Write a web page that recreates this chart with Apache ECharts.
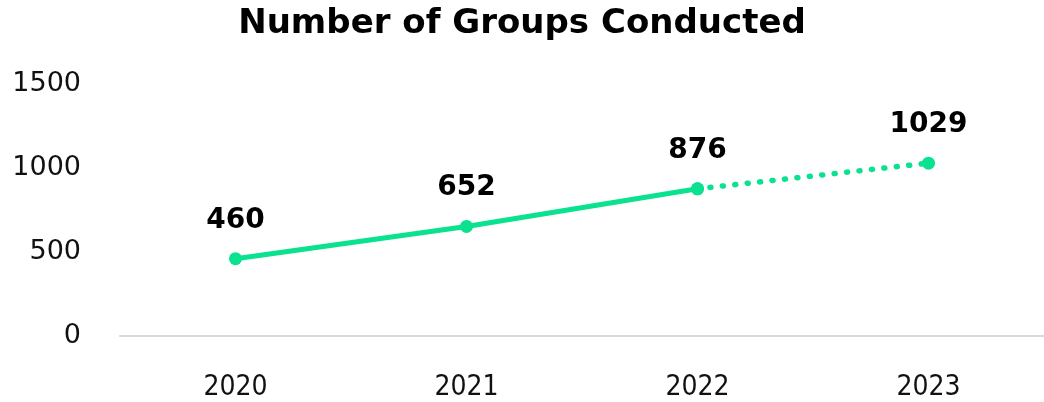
<!DOCTYPE html>
<html><head><meta charset="utf-8">
<script src="https://cdn.jsdelivr.net/npm/echarts@6/dist/echarts.min.js"></script>
<style>html,body{margin:0;padding:0;background:#fff}#c{width:1044px;height:402px}</style>
</head><body><div id="c"></div>
<script>
const categories = ['2020','2021','2022','2023'];
const actualValues = [460, 652, 876, null];
const projectedValues = [null, null, 876, 1029];
const yTicks = [0, 500, 1000, 1500];
const titleText = 'Number of Groups Conducted';

const green = '#0ae28f';
const chart = echarts.init(document.getElementById('c'));
chart.setOption({
  animation: false,
  title: {
    text: titleText, left: 'center', top: 2,
    textStyle: {fontFamily: 'DejaVu Sans', fontWeight: 'bold', fontSize: 34, color: '#000'}
  },
  grid: {left: 120, right: -4, top: 84, bottom: 66},
  xAxis: {
    type: 'category', data: categories, boundaryGap: true,
    axisLine: {lineStyle: {color: '#d9d9d9', width: 2}},
    axisTick: {show: false},
    axisLabel: {margin: 38, fontSize: 28, color: '#111', fontFamily: "'DejaVu Sans Condensed', 'Liberation Sans Narrow', Roboto"}
  },
  yAxis: {
    type: 'value', min: yTicks[0], max: yTicks[yTicks.length - 1], interval: 500,
    splitLine: {show: false},
    axisLabel: {margin: 39, fontSize: 27, color: '#111', fontFamily: 'DejaVu Sans', formatter: v => String(v)}
  },
  series: [
    {
      type: 'line', data: actualValues, symbol: 'circle', symbolSize: 13,
      lineStyle: {color: green, width: 5},
      itemStyle: {color: green},
      label: {show: true, position: 'top', distance: 18, fontSize: 28, fontWeight: 'bold', color: '#000', fontFamily: 'DejaVu Sans'}
    },
    {
      type: 'line', data: projectedValues, symbol: 'circle', symbolSize: 13,
      lineStyle: {color: green, width: 5.5, type: [1, 11.5], cap: 'round'},
      itemStyle: {color: green},
      label: {show: true, position: 'top', distance: 18, fontSize: 28, fontWeight: 'bold', color: '#000', fontFamily: 'DejaVu Sans',
        formatter: p => p.dataIndex === 3 ? p.value : ''}
    }
  ]
});
</script></body></html>
